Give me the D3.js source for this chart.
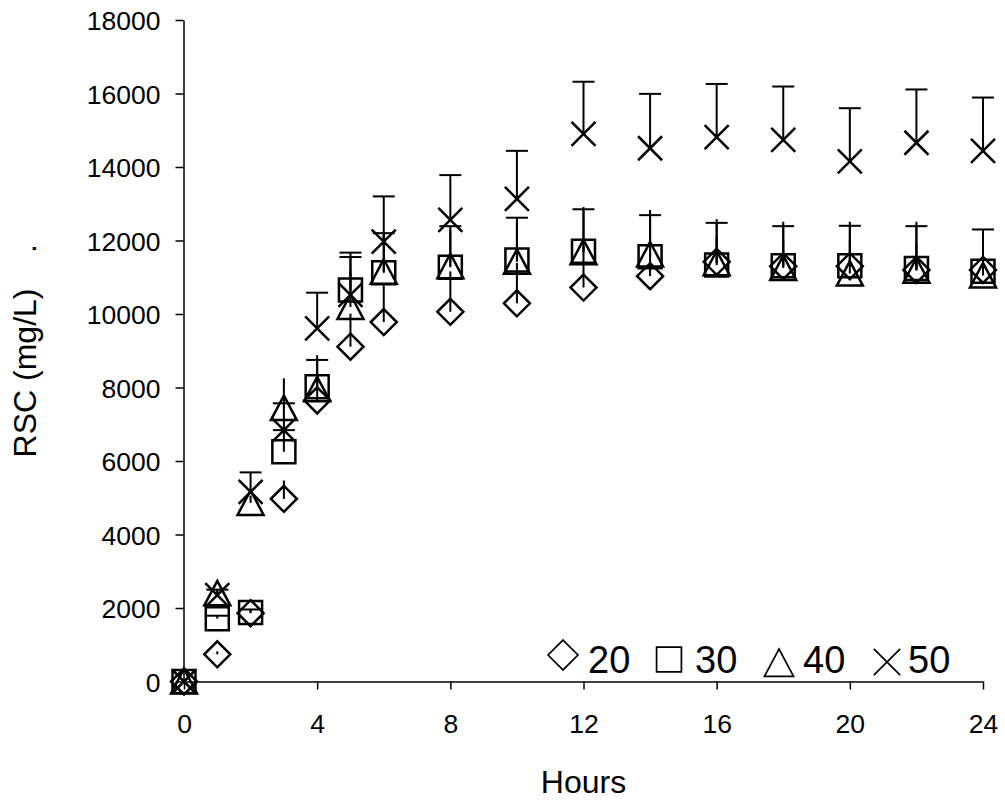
<!DOCTYPE html>
<html>
<head>
<meta charset="utf-8">
<script src="https://cdn.jsdelivr.net/npm/d3@7"></script>
<style>
  body { margin: 0; background: #fff; }
  svg { display: block; font-family: "Liberation Sans", Arial, sans-serif; }
  .axis path, .axis line { stroke: #000; stroke-width: 1.5; }
  .axis text { fill: #000; font-size: 26.5px; font-family: "Liberation Sans", Arial, sans-serif; }
</style>
</head>
<body>
<script>
// sampling hours
const hours = [0, 1, 2, 3, 4, 5, 6, 8, 10, 12, 14, 16, 18, 20, 22, 24];

// RSC (mg/L) per series
const rsc20 = [0, 740, 1860, 4970, 7650, 9110, 9780, 10060, 10290, 10720, 11030, 11420, 11300, 11300, 11200, 11200];
const rsc30 = [0, 1710, 1880, 6250, 8020, 10650, 11120, 11270, 11470, 11710, 11560, 11330, 11310, 11310, 11240, 11160];
const rsc40 = [0, 2400, 4860, 7440, 7950, 10190, 11150, 11300, 11420, 11680, 11620, 11380, 11250, 11100, 11180, 11050];
const rsc50 = [0, 2350, 5160, 6840, 9610, 10520, 11970, 12560, 13130, 14900, 14510, 14810, 14740, 14150, 14660, 14440];

// upper error bars
const err20 = [0, 80, 80, 500, 700, 900, 1000, 1100, 1100, 1100, 900, 700, 700, 700, 700, 700];
const err30 = [0, 80, 80, 590, 730, 900, 1080, 1120, 1150, 1140, 1130, 1150, 1080, 1090, 1150, 1140];
const err40 = [0, 100, 200, 810, 930, 1000, 1000, 1000, 1050, 1230, 1210, 1200, 1260, 1410, 1330, 1200];
const err50 = [0, 150, 530, 730, 970, 1150, 1230, 1220, 1310, 1420, 1480, 1450, 1450, 1450, 1450, 1450];

const legendLabels = ["20", "30", "40", "50"];
const xTicks = [0, 4, 8, 12, 16, 20, 24];
const yTicks = d3.range(0, 18001, 2000);

const series = [
  { name: legendLabels[0], marker: "diamond", values: rsc20, errors: err20, caps: false },
  { name: legendLabels[1], marker: "square", values: rsc30, errors: err30, caps: true },
  { name: legendLabels[2], marker: "triangle", values: rsc40, errors: err40, caps: false },
  { name: legendLabels[3], marker: "cross", values: rsc50, errors: err50, caps: true }
];

const W = 1005, H = 803;
const x = d3.scaleLinear().domain([0, 24]).range([184, 983]);
const y = d3.scaleLinear().domain([0, 18000]).range([681.5, 20]);

const shape = {
  diamond: (s) => `M0,${-13 * s}L${13 * s},0L0,${13 * s}L${-13 * s},0Z`,
  square: (s) => `M${-11.5 * s},${-11.5 * s}H${11.5 * s}V${11.5 * s}H${-11.5 * s}Z`,
  triangle: (s) => `M0,${-12.5 * s}L${13 * s},${12 * s}L${-13 * s},${12 * s}Z`,
  cross: (s) => `M${-12 * s},${-12 * s}L${12 * s},${12 * s}M${12 * s},${-12 * s}L${-12 * s},${12 * s}`
};

const svg = d3.select("body").append("svg").attr("width", W).attr("height", H);

// axes
svg.append("g")
  .attr("class", "axis")
  .attr("transform", `translate(0,${y(0)})`)
  .call(d3.axisBottom(x).tickValues(xTicks).tickSize(8).tickSizeOuter(0).tickPadding(25));

svg.append("g")
  .attr("class", "axis")
  .attr("transform", `translate(${x(0) - 0.5},0)`)
  .call(d3.axisLeft(y).tickValues(yTicks).tickSize(8).tickSizeOuter(0).tickPadding(15).tickFormat(d3.format("d")))
  .call((g) => g.selectAll("text").attr("dy", "0.36em"));

// axis titles
svg.append("text")
  .attr("x", (x(0) + x(24)) / 2)
  .attr("y", 793)
  .attr("text-anchor", "middle")
  .attr("font-size", 32)
  .text("Hours");

svg.append("text")
  .attr("transform", `translate(36,${(y(0) + y(18000)) / 2}) rotate(-90)`)
  .attr("text-anchor", "middle")
  .attr("font-size", 32)
  .style("white-space", "pre")
  .text("RSC (mg/L)    .");

// error bars then markers, one group per series
const plot = svg.append("g");

series.forEach((s) => {
  const pts = hours.map((h, i) => ({ h, v: s.values[i], e: s.errors[i] }));
  const g = plot.append("g");

  g.selectAll(".err")
    .data(pts.filter((d) => d.e > 0))
    .join("line")
    .attr("x1", (d) => x(d.h))
    .attr("x2", (d) => x(d.h))
    .attr("y1", (d) => y(d.v))
    .attr("y2", (d) => y(d.v + d.e))
    .attr("stroke", "#000")
    .attr("stroke-width", 2);

  if (s.caps) {
    g.selectAll(".cap")
      .data(pts.filter((d) => d.e > 0))
      .join("line")
      .attr("x1", (d) => x(d.h) - 11)
      .attr("x2", (d) => x(d.h) + 11)
      .attr("y1", (d) => y(d.v + d.e))
      .attr("y2", (d) => y(d.v + d.e))
      .attr("stroke", "#000")
      .attr("stroke-width", 2);
  }

  g.selectAll(".mark")
    .data(pts)
    .join("path")
    .attr("transform", (d) => `translate(${x(d.h)},${y(d.v)})`)
    .attr("d", shape[s.marker](1))
    .attr("fill", "none")
    .attr("stroke", "#000")
    .attr("stroke-width", 2.5);
});

// legend
const legendX = [563, 669, 779, 887];
const legendMarkY = [655, 659.5, 663, 662];
const legendTextX = [588, 695, 803, 908];
const legendScale = [1.15, 1.08, 1.12, 1.1];

const legend = svg.append("g");
series.forEach((s, i) => {
  legend.append("path")
    .attr("transform", `translate(${legendX[i]},${legendMarkY[i]})`)
    .attr("d", shape[s.marker](legendScale[i]))
    .attr("fill", "none")
    .attr("stroke", "#000")
    .attr("stroke-width", 1.7);
  legend.append("text")
    .attr("x", legendTextX[i])
    .attr("y", 673)
    .attr("font-size", 38)
    .text(s.name);
});
</script>
</body>
</html>
